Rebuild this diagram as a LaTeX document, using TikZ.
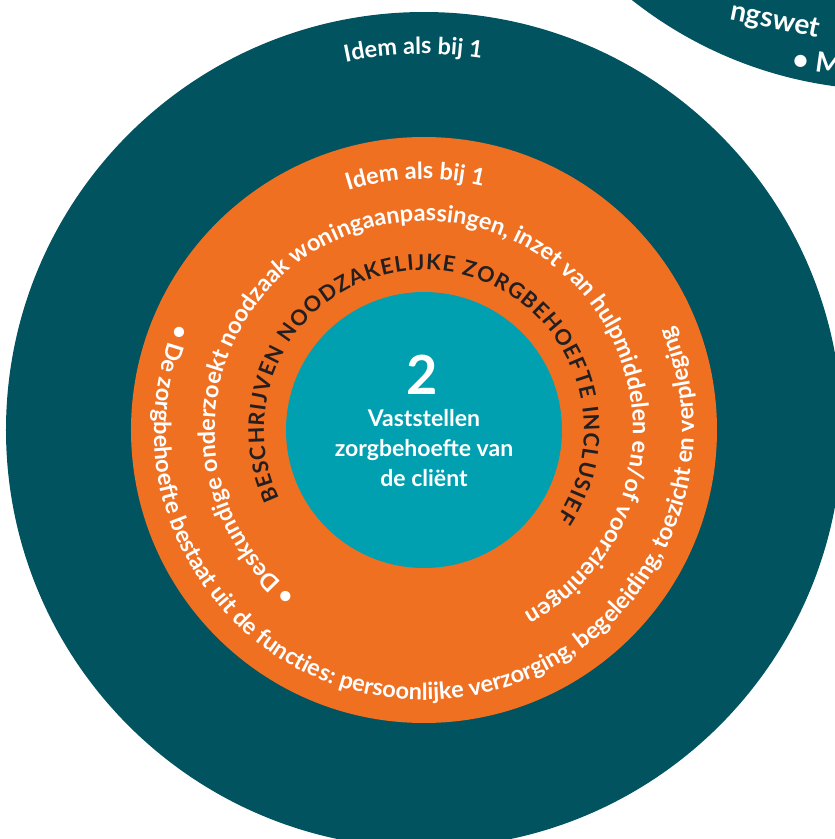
\documentclass[tikz,border=0pt]{standalone}
\usepackage{fontspec}
\setmainfont{Lato}
\usepackage{xcolor}
\usetikzlibrary{decorations.text}
\definecolor{petrol}{RGB}{0,83,95}
\definecolor{oranje}{RGB}{240,112,34}
\definecolor{turkoois}{RGB}{0,160,176}
\definecolor{inkt}{RGB}{35,31,32}
\newcommand{\ringfont}{\bfseries\fontsize{23.5}{28}\selectfont}
\newcommand{\kopfont}{\bfseries\fontsize{21.5}{24}\selectfont}
\newcommand{\wetfont}{\bfseries\fontsize{28}{32}\selectfont}

\begin{document}
\begin{tikzpicture}[x=1pt, y=1pt,
		ring/.style={circle, inner sep=0pt, minimum size=#1},
		boog/.style={decorate, decoration={text along path, text align=center, text color=white, text={|\ringfont|#1}}},
		kopboog/.style={decorate, decoration={text along path, text align={fit to path}, text color=inkt, text={|\kopfont|#1}}}]
		\useasboundingbox (-424,-409) rectangle (411,430);
		\node[ring=836pt, fill=petrol] (stap3) at (467,758) {};
		\node[ring=836pt, fill=petrol] (buiten) at (0,0) {};
		\node[ring=586pt, fill=oranje] (midden) at (0,0) {};
		\node[ring=276pt, fill=turkoois] (kern) at (0,0) {};
		
		\node[white, font=\wetfont, rotate=-11.5, anchor=base west] (wet) at (302,411) {ngswet};
		\node[white, font=\wetfont, rotate=-8, anchor=base west] (me) at (364,362) {\textbullet{} Me};
		
		\path[boog={Idem als bij 1}] (121.6:376pt) arc[start angle=121.6, end angle=61.6, radius=376pt];
		\path[boog={Idem als bij 1}] (132:251pt) arc[start angle=132, end angle=52, radius=251pt];
		\path[boog={• Deskundige onderzoekt noodzaak woningaanpassingen, inzet van hulpmiddelen en/of voorzieningen}] (245.5:209pt) arc[start angle=245.5, end angle=-74.5, radius=209pt];
		\path[boog={• De zorgbehoefte bestaat uit de functies: persoonlijke verzorging, begeleiding, toezicht en verpleging}] (129.8:270pt) arc[start angle=129.8, end angle=409.8, radius=270pt];
		\path[kopboog={BESCHRIJVEN NOODZAKELIJKE ZORGBEHOEFTE INCLUSIEF}] (205.5:160pt) arc[start angle=205.5, end angle=-33.5, radius=160pt];
		
		\node[white, font=\bfseries\fontsize{54}{54}\selectfont] (nr) at (-2,55) {2};
		\node[white, font=\bfseries\fontsize{23}{30}\selectfont, align=center] (titel) at (0,-18) {Vaststellen\\zorgbehoefte van\\de cliënt};
	\end{tikzpicture}
\end{document}
